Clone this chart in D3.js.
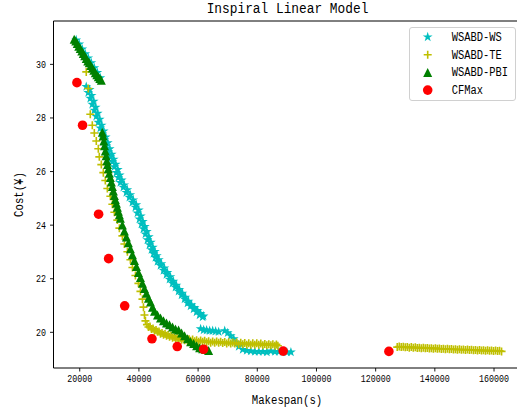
<!DOCTYPE html>
<html>
<head>
<meta charset="utf-8">
<script src="https://d3js.org/d3.v7.min.js"></script>
<title>Inspiral Linear Model</title>
<style>
html, body { margin: 0; padding: 0; background: #fff; }
svg { display: block; }
</style>
</head>
<body>
<script>
// WSABD-WS (cyan stars)
var wsX = [18980, 20000, 21020, 22030, 23050, 24070, 25090, 26100, 27120,
  22370, 23050, 23730, 24410, 25090, 25760, 26440, 27120, 27800, 28480, 29150, 29830, 30510, 31190, 31870,
  32540, 33220, 33900, 34920, 35930, 36950, 37970, 38980, 39660, 40340, 41020, 41700, 42370, 43050, 43730,
  44410, 45090, 45760, 46440, 47460, 48480, 49490, 50510, 51530, 52540, 53560, 54580, 55600, 56610, 57630,
  58650, 59660, 60680, 61700,
  23510, 24190, 24870, 25550, 26230, 26900, 27580, 28260, 28940, 29620, 30290, 30970, 31650, 32330, 33010,
  33680, 34360, 35210, 36230, 37240, 38260, 39280, 40120, 40800, 41480, 42160, 42840, 43510, 44190, 44870,
  45550, 46230, 46900, 47750, 48770, 49790, 50800, 51820, 52840, 53850, 54870, 55890, 56910, 57920, 58940,
  59960, 60970, 61990,
  61020, 62040, 63050, 64070, 65090, 66100, 67120,
  69160, 70170, 71190, 72210, 73220, 73900,
  75260, 76610, 77970, 79330, 80680, 82040, 83390,
  84750, 86110, 87460, 88820, 90170, 91530];
var wsY = [30.89, 30.74, 30.55, 30.37, 30.22, 30.04, 29.85, 29.67, 29.48,
  29.15, 28.93, 28.71, 28.49, 28.27, 28.04, 27.82, 27.6, 27.38, 27.16, 26.94, 26.72, 26.53, 26.35, 26.16,
  25.94, 25.76, 25.57, 25.39, 25.2, 25.02, 24.83, 24.65, 24.43, 24.21, 24.02, 23.84, 23.65, 23.43, 23.25,
  23.06, 22.92, 22.77, 22.62, 22.47, 22.29, 22.14, 21.96, 21.81, 21.66, 21.51, 21.37, 21.22, 21.07, 20.96,
  20.85, 20.74, 20.63, 20.55,
  29.04, 28.82, 28.6, 28.38, 28.15, 27.93, 27.71, 27.49, 27.27, 27.05, 26.83, 26.62, 26.44, 26.25, 26.05,
  25.85, 25.66, 25.48, 25.3, 25.11, 24.92, 24.74, 24.54, 24.32, 24.11, 23.93, 23.74, 23.54, 23.34, 23.15,
  22.99, 22.84, 22.69, 22.54, 22.38, 22.21, 22.05, 21.88, 21.73, 21.58, 21.44, 21.29, 21.14, 21.01, 20.9,
  20.79, 20.68, 20.59,
  20.11, 20.07, 20.06, 20.04, 20.04, 20.02, 20.0,
  20.04, 19.96, 19.85, 19.74, 19.59, 19.45,
  19.34, 19.3, 19.28, 19.26, 19.26, 19.26, 19.24,
  19.28, 19.26, 19.26, 19.26, 19.24, 19.24];

// WSABD-TE (yellow pluses)
var teX = [22370, 23050, 23730, 24410, 25090, 25760, 26440, 26780, 27460, 28140, 28810, 29490, 30510, 31190,
  31870, 32880, 33560, 34580, 35250, 36270, 37290, 37970, 38980, 40000, 40680, 41360, 41700, 42040,
  42370, 43390, 44410, 45430, 46440, 47460, 48480, 49490, 50510, 51530, 52540, 53560, 54580, 55600, 56610,
  57630, 58990, 60340, 61700, 63050, 64410, 65770, 67120, 68480, 69830, 71190, 72550, 73900, 75260, 76610,
  77970, 79330, 80680, 82040, 83390, 84750, 86110, 87120,
  42880, 43900, 44920, 45940, 46950, 47970, 48990, 50000, 51020, 52040, 53050, 54070, 55090, 56100, 57120,
  58310, 59660, 61020, 62380, 63730, 65090, 66440, 67800, 69160, 70510, 71870, 73220, 74580, 75930, 77290,
  78650, 80000, 81360, 82710, 84070, 85430, 86620,
  127460, 128820, 130170, 131530, 132890, 134240, 135600, 136950, 138310, 139670, 141020, 142380, 143740,
  145090, 146450, 147800, 149160, 150520, 151870, 153230, 154590, 155940, 157300, 158650, 160010, 161370, 162720,
  128140, 129500, 130850, 132210, 133570, 134920, 136280, 137630, 138990, 140350, 141700, 143060, 144420,
  145770, 147130, 148480, 149840, 151200, 152550, 153910, 155270, 156620, 157980, 159330, 160690, 162040];
var teY = [29.7, 29.08, 28.12, 27.71, 27.42, 27.12, 26.83, 26.53, 26.24, 25.94, 25.65, 25.35, 25.06, 24.76,
  24.46, 24.17, 23.87, 23.58, 23.28, 22.99, 22.69, 22.4, 22.1, 21.81, 21.51, 21.22, 20.92, 20.63,
  20.41, 20.18, 20.11, 20.04, 20.0, 19.93, 19.89, 19.85, 19.82, 19.78, 19.74, 19.72, 19.7, 19.69, 19.67,
  19.67, 19.65, 19.63, 19.63, 19.61, 19.59, 19.59, 19.59, 19.58, 19.56, 19.56, 19.56, 19.54, 19.54, 19.52,
  19.52, 19.52, 19.52, 19.5, 19.5, 19.5, 19.48, 19.48,
  20.27, 20.2, 20.12, 20.07, 20.01, 19.96, 19.92, 19.88, 19.85, 19.81, 19.78, 19.76, 19.75, 19.73, 19.72,
  19.71, 19.69, 19.68, 19.67, 19.65, 19.64, 19.64, 19.63, 19.62, 19.61, 19.6, 19.6, 19.59, 19.58, 19.57,
  19.57, 19.57, 19.56, 19.55, 19.54, 19.54, 19.53,
  19.43, 19.43, 19.42, 19.41, 19.41, 19.4, 19.39, 19.39, 19.38, 19.37, 19.37, 19.36, 19.35,
  19.35, 19.34, 19.33, 19.33, 19.32, 19.32, 19.31, 19.3, 19.3, 19.29, 19.29, 19.28, 19.28, 19.27,
  19.45, 19.44, 19.43, 19.43, 19.42, 19.41, 19.41, 19.4, 19.39, 19.39, 19.38, 19.37, 19.37,
  19.36, 19.35, 19.35, 19.34, 19.34, 19.33, 19.32, 19.32, 19.31, 19.31, 19.3, 19.3, 19.29];

// WSABD-PBI (green triangles)
var pbiX = [18300, 18810, 19320, 19830, 20340, 20850, 21360, 21860, 22370, 22880, 23390, 23900, 24410, 24920,
  25420, 25930, 26440, 26950, 27460,
  27800, 28070, 28310, 28540, 28810, 29090, 29320, 29560, 29830, 30170, 30510, 30850, 31190, 31530, 31870,
  32200, 32540, 32880, 33220, 33560, 33900, 34580, 35250, 35930, 36610, 37290, 37970, 38650, 39320, 40000,
  40680, 41360, 42040, 42710, 43390, 44070, 44750, 45430, 46440, 47460, 48480, 49490, 50510, 51530, 52540,
  53560, 54580, 55600, 56610, 57630, 58650, 59660, 60680, 61700, 62710, 63730];
var pbiY = [30.92, 30.85, 30.76, 30.66, 30.57, 30.48, 30.39, 30.3, 30.2, 30.11, 30.04, 29.94, 29.85, 29.76,
  29.67, 29.59, 29.52, 29.45, 29.39,
  27.45, 27.31, 27.12, 26.94, 26.75, 26.57, 26.38, 26.24, 26.09, 25.92, 25.76, 25.59, 25.42, 25.26, 25.09,
  24.94, 24.8, 24.65, 24.5, 24.37, 24.24, 23.99, 23.76, 23.54, 23.32, 23.1, 22.88, 22.66, 22.44, 22.21,
  22.03, 21.81, 21.62, 21.44, 21.25, 21.11, 20.92, 20.77, 20.63, 20.52, 20.41, 20.33, 20.26, 20.18, 20.11,
  20.07, 19.96, 19.85, 19.74, 19.63, 19.56, 19.48, 19.41, 19.37, 19.34, 19.3];

// CFMax (red circles)
var cfX = [19220, 21120, 26540, 29930, 35360, 44580, 53120, 62030, 88920, 124640];
var cfY = [29.3, 27.71, 24.39, 22.73, 20.97, 19.74, 19.45, 19.35, 19.28, 19.27];

var seriesNames = ["WSABD-WS", "WSABD-TE", "WSABD-PBI", "CFMax"];
var xTicks = [20000, 40000, 60000, 80000, 100000, 120000, 140000, 160000];
var yTicks = [20, 22, 24, 26, 28, 30];

var W = 517, H = 415;
var plot = {left: 53.5, right: 524, top: 21, bottom: 368};
var MONO = "'Liberation Mono', 'DejaVu Sans Mono', monospace";

var x = d3.scaleLinear().domain([11300, 170300]).range([plot.left, plot.right]);
var y = d3.scaleLinear().domain([18.65, 31.6]).range([plot.bottom, plot.top]);

var svg = d3.select("body").append("svg")
  .attr("width", W)
  .attr("height", H)
  .style("background", "#fff");

// squeeze text to the narrow monospace look of the original font
function squeeze(sel, perChar) {
  sel.attr("textLength", function() { return this.textContent.length * perChar; })
    .attr("lengthAdjust", "spacingAndGlyphs");
}

function zip(xs, ys) { return xs.map(function(v, i) { return [v, ys[i]]; }); }

var star = d3.symbol(d3.symbolStar).size(30)();
var tri = "M0,-4.5L4.5,4.5L-4.5,4.5Z";
var plus = "M-4,0H4M0,-4V4";

var series = [
  {name: seriesNames[0], pts: zip(wsX, wsY), path: star, fill: "#00bfbf", stroke: "none"},
  {name: seriesNames[1], pts: zip(teX, teY), path: plus, fill: "none", stroke: "#bfbf00"},
  {name: seriesNames[2], pts: zip(pbiX, pbiY), path: tri, fill: "#008000", stroke: "none"},
  {name: seriesNames[3], pts: zip(cfX, cfY), path: null, fill: "#ff0000", stroke: "none"}
];

var plotG = svg.append("g");
series.forEach(function(s) {
  var g = plotG.append("g");
  if (s.path) {
    g.selectAll("path").data(s.pts).enter().append("path")
      .attr("d", s.path)
      .attr("transform", function(d) { return "translate(" + x(d[0]) + "," + y(d[1]) + ")"; })
      .attr("fill", s.fill)
      .attr("stroke", s.stroke)
      .attr("stroke-width", 1.6);
  } else {
    g.selectAll("circle").data(s.pts).enter().append("circle")
      .attr("cx", function(d) { return x(d[0]); })
      .attr("cy", function(d) { return y(d[1]); })
      .attr("r", 4.8)
      .attr("fill", s.fill);
  }
});

// axes
var xAxis = svg.append("g")
  .attr("transform", "translate(0," + plot.bottom + ")")
  .call(d3.axisBottom(x).tickValues(xTicks).tickSize(3.5).tickPadding(3).tickFormat(d3.format("d")));
var yAxis = svg.append("g")
  .attr("transform", "translate(" + plot.left + ",0)")
  .call(d3.axisLeft(y).tickValues(yTicks).tickSize(3.5).tickPadding(4).tickFormat(d3.format("d")));

[xAxis, yAxis].forEach(function(a) {
  a.select(".domain").remove();
  a.selectAll("line").attr("stroke", "#000").attr("stroke-width", 0.9);
  a.selectAll("text").attr("font-family", MONO).attr("font-size", 11).attr("fill", "#000");
  squeeze(a.selectAll("text"), 5.0);
});

// frame
svg.append("path")
  .attr("d", "M" + plot.right + "," + plot.top + "H" + plot.left + "V" + plot.bottom + "H" + plot.right)
  .attr("fill", "none")
  .attr("stroke", "#000")
  .attr("stroke-width", 1);

// title and labels
var title = svg.append("text")
  .attr("x", 287.5).attr("y", 13)
  .attr("text-anchor", "middle")
  .attr("font-family", MONO).attr("font-size", 14)
  .text("Inspiral Linear Model");
squeeze(title, 7.7);

var xl = svg.append("text")
  .attr("x", 287).attr("y", 404)
  .attr("text-anchor", "middle")
  .attr("font-family", MONO).attr("font-size", 12)
  .text("Makespan(s)");
squeeze(xl, 6.4);

var yl = svg.append("text")
  .attr("transform", "translate(23,194.5) rotate(-90)")
  .attr("text-anchor", "middle")
  .attr("font-family", MONO).attr("font-size", 12)
  .text("Cost(¥)");
squeeze(yl, 6.4);

// legend
var leg = svg.append("g");
leg.append("rect")
  .attr("x", 409.5).attr("y", 27.5).attr("width", 106).attr("height", 73)
  .attr("rx", 2.5)
  .attr("fill", "#fff").attr("fill-opacity", 0.8)
  .attr("stroke", "#d0d0d0");
series.forEach(function(s, i) {
  var ly = 37 + i * 17.7;
  if (s.path) {
    leg.append("path").attr("d", s.path)
      .attr("transform", "translate(427.7," + ly + ")")
      .attr("fill", s.fill).attr("stroke", s.stroke).attr("stroke-width", 1.6);
  } else {
    leg.append("circle").attr("cx", 427.7).attr("cy", ly).attr("r", 4.8).attr("fill", s.fill);
  }
  var t = leg.append("text")
    .attr("x", 451.7).attr("y", ly + 4)
    .attr("font-family", MONO).attr("font-size", 12)
    .text(s.name);
  squeeze(t, 6.25);
});
</script>
</body>
</html>
